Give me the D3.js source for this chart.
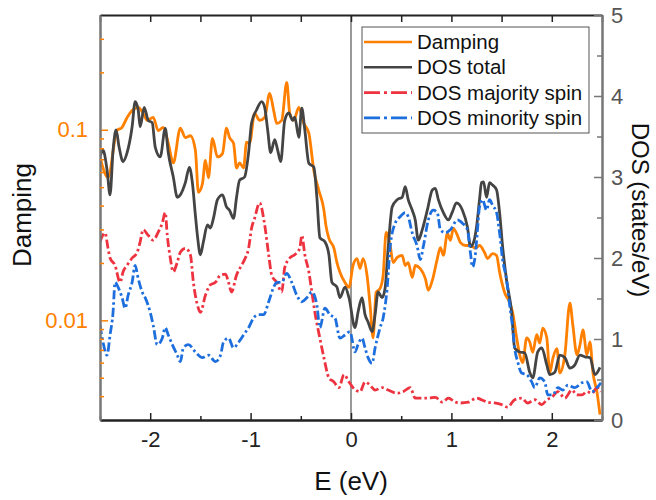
<!DOCTYPE html>
<html>
<head>
<meta charset="utf-8">
<script src="https://cdn.jsdelivr.net/npm/d3@7"></script>
<style>
  body { margin: 0; background: #fff; }
  svg text { font-family: "Liberation Sans", Arial, sans-serif; }
</style>
</head>
<body>
<div class="container"></div>
<script>
// damping (left, log axis)
var dampE = [-2.50,-2.42,-2.33,-2.28,-2.23,-2.18,-2.12,-2.07,-2.03,-1.97,-1.92,-1.87,-1.82,-1.77,-1.70,-1.65,-1.60,-1.55,-1.52,-1.48,-1.45,-1.42,-1.38,-1.33,-1.28,-1.24,-1.21,-1.17,-1.14,-1.11,-1.07,-1.04,-1.01,-0.96,-0.91,-0.86,-0.81,-0.77,-0.74,-0.69,-0.64,-0.61,-0.57,-0.52,-0.47,-0.42,-0.37,-0.32,-0.27,-0.25,-0.22,-0.17,-0.14,-0.11,-0.06,-0.02,0.02,0.06,0.09,0.12,0.16,0.19,0.22,0.25,0.29,0.32,0.35,0.39,0.42,0.46,0.51,0.54,0.57,0.61,0.64,0.69,0.74,0.77,0.81,0.86,0.89,0.92,0.96,0.99,1.02,1.06,1.09,1.14,1.19,1.24,1.28,1.33,1.36,1.41,1.45,1.48,1.53,1.58,1.61,1.65,1.68,1.71,1.75,1.78,1.81,1.85,1.88,1.91,1.95,1.98,2.01,2.05,2.08,2.13,2.18,2.21,2.25,2.28,2.31,2.35,2.38,2.41,2.45,2.48];
var dampV = [0.0718,0.0562,0.0992,0.103,0.116,0.126,0.131,0.122,0.112,0.116,0.099,0.103,0.085,0.067,0.102,0.091,0.093,0.078,0.047,0.052,0.069,0.056,0.090,0.072,0.075,0.102,0.091,0.085,0.063,0.067,0.063,0.086,0.085,0.122,0.112,0.116,0.155,0.126,0.108,0.112,0.177,0.122,0.112,0.131,0.108,0.096,0.061,0.048,0.038,0.0315,0.0269,0.0239,0.0201,0.0179,0.0158,0.0149,0.0194,0.0211,0.0187,0.0211,0.0172,0.0120,0.0081,0.0140,0.0147,0.0172,0.0289,0.0247,0.0201,0.0214,0.0219,0.0194,0.0201,0.0168,0.0194,0.0187,0.0166,0.0144,0.0162,0.0211,0.0241,0.0219,0.0286,0.0263,0.0304,0.0279,0.0256,0.0247,0.0247,0.0239,0.0247,0.0227,0.0211,0.0224,0.0219,0.0179,0.0140,0.0124,0.0110,0.0081,0.0066,0.0060,0.0081,0.0077,0.0068,0.0084,0.0076,0.0091,0.0081,0.0053,0.0063,0.0071,0.0053,0.0066,0.0123,0.0094,0.0066,0.0074,0.0089,0.0066,0.0077,0.0053,0.0042,0.0032];

// DOS total (right axis, states/eV)
var totE = [-2.50,-2.47,-2.43,-2.40,-2.37,-2.34,-2.31,-2.27,-2.23,-2.18,-2.15,-2.12,-2.10,-2.06,-2.02,-1.98,-1.95,-1.90,-1.85,-1.82,-1.77,-1.73,-1.70,-1.65,-1.61,-1.58,-1.55,-1.53,-1.50,-1.47,-1.43,-1.40,-1.37,-1.33,-1.28,-1.24,-1.21,-1.17,-1.14,-1.11,-1.06,-1.02,-0.99,-0.94,-0.89,-0.86,-0.83,-0.80,-0.76,-0.73,-0.70,-0.66,-0.62,-0.58,-0.56,-0.52,-0.49,-0.46,-0.42,-0.37,-0.34,-0.31,-0.26,-0.22,-0.19,-0.14,-0.11,-0.06,-0.02,0.04,0.07,0.11,0.14,0.17,0.21,0.24,0.27,0.31,0.34,0.37,0.41,0.46,0.51,0.54,0.57,0.61,0.64,0.67,0.71,0.76,0.81,0.84,0.87,0.92,0.97,1.01,1.05,1.11,1.16,1.19,1.22,1.25,1.28,1.30,1.32,1.35,1.38,1.41,1.45,1.48,1.51,1.55,1.60,1.63,1.68,1.73,1.78,1.81,1.86,1.90,1.95,1.98,2.03,2.08,2.13,2.18,2.23,2.28,2.33,2.38,2.43,2.48];
var totV = [3.25,3.33,3.09,2.78,3.33,3.58,3.37,3.19,3.30,3.62,3.93,3.83,3.62,3.86,3.70,3.67,3.37,3.25,3.60,3.30,3.00,2.75,2.78,2.93,3.12,2.93,2.53,2.28,2.04,2.20,2.41,2.37,2.49,2.72,2.78,2.63,2.59,2.49,2.75,2.96,3.00,3.30,3.67,3.83,3.93,3.86,3.58,3.30,3.46,3.33,3.19,3.70,3.79,3.70,3.74,3.49,3.85,3.58,3.17,3.12,2.75,2.25,2.20,2.04,1.70,1.64,1.51,1.64,1.51,1.14,1.33,1.51,1.30,1.21,1.09,1.30,1.58,1.51,1.63,2.12,2.63,2.72,2.75,2.88,2.72,2.59,2.47,2.22,2.35,2.59,2.84,2.86,2.72,2.56,2.47,2.57,2.68,2.59,2.38,2.14,2.19,2.38,2.72,2.93,2.94,2.75,2.93,2.90,2.84,2.56,2.14,1.72,1.33,0.89,0.84,0.83,0.59,0.52,0.84,0.89,0.68,0.56,0.59,0.80,0.77,0.64,0.68,0.80,0.78,0.77,0.56,0.65];

// DOS majority spin
var majE = [-2.50,-2.45,-2.42,-2.40,-2.35,-2.30,-2.27,-2.23,-2.18,-2.13,-2.10,-2.07,-2.02,-1.97,-1.92,-1.88,-1.85,-1.83,-1.80,-1.77,-1.73,-1.70,-1.65,-1.60,-1.57,-1.53,-1.50,-1.45,-1.40,-1.35,-1.30,-1.25,-1.22,-1.19,-1.14,-1.09,-1.06,-1.02,-0.99,-0.96,-0.91,-0.86,-0.82,-0.79,-0.74,-0.69,-0.66,-0.61,-0.56,-0.51,-0.49,-0.46,-0.42,-0.39,-0.36,-0.31,-0.27,-0.22,-0.17,-0.12,-0.07,-0.02,0.02,0.09,0.14,0.19,0.24,0.31,0.37,0.46,0.52,0.59,0.64,0.71,0.77,0.84,0.91,0.97,1.04,1.09,1.17,1.25,1.30,1.36,1.43,1.50,1.56,1.63,1.70,1.76,1.83,1.90,1.95,2.00,2.06,2.13,2.20,2.25,2.30,2.35,2.40,2.45,2.49];
var majV = [2.20,2.31,2.12,2.00,1.91,1.70,1.83,1.91,2.00,2.07,2.20,2.35,2.28,2.22,2.32,2.43,2.56,2.28,2.00,1.83,1.95,2.07,2.12,2.04,1.70,1.42,1.33,1.54,1.67,1.70,1.79,1.80,1.70,1.58,1.79,1.91,1.98,2.12,2.37,2.49,2.68,2.41,2.04,1.79,1.70,1.58,1.88,2.00,2.04,2.12,2.28,2.04,1.83,1.58,1.33,1.01,0.77,0.52,0.47,0.40,0.56,0.47,0.40,0.35,0.47,0.43,0.37,0.40,0.37,0.33,0.35,0.40,0.27,0.27,0.27,0.28,0.22,0.27,0.22,0.21,0.22,0.27,0.25,0.22,0.21,0.19,0.16,0.25,0.27,0.21,0.25,0.19,0.25,0.28,0.35,0.27,0.37,0.31,0.31,0.35,0.33,0.40,0.35];

// DOS minority spin
var minE = [-2.50,-2.47,-2.43,-2.40,-2.37,-2.35,-2.32,-2.28,-2.25,-2.22,-2.18,-2.15,-2.12,-2.08,-2.05,-2.00,-1.97,-1.93,-1.88,-1.85,-1.82,-1.78,-1.73,-1.70,-1.67,-1.62,-1.55,-1.48,-1.42,-1.35,-1.30,-1.27,-1.22,-1.17,-1.12,-1.07,-1.02,-0.97,-0.92,-0.87,-0.82,-0.77,-0.74,-0.69,-0.64,-0.59,-0.54,-0.49,-0.44,-0.39,-0.34,-0.31,-0.26,-0.21,-0.16,-0.11,-0.06,-0.01,0.04,0.07,0.11,0.14,0.17,0.21,0.24,0.29,0.32,0.36,0.39,0.44,0.49,0.54,0.57,0.61,0.66,0.69,0.72,0.77,0.82,0.86,0.89,0.94,0.99,1.06,1.11,1.16,1.19,1.21,1.24,1.26,1.28,1.31,1.35,1.38,1.41,1.45,1.48,1.51,1.55,1.58,1.61,1.63,1.66,1.70,1.75,1.80,1.83,1.88,1.93,1.96,2.01,2.06,2.11,2.16,2.23,2.30,2.35,2.40,2.45,2.49];
var minV = [1.17,0.96,0.80,1.05,1.33,1.70,1.64,1.51,1.38,1.54,1.70,1.91,1.75,1.58,1.51,1.33,1.17,0.93,1.01,1.14,1.05,0.93,0.80,0.72,0.89,0.93,0.84,0.77,0.80,0.72,0.80,0.96,1.01,0.89,0.96,1.05,1.14,1.26,1.30,1.30,1.46,1.64,1.70,1.70,1.81,1.70,1.54,1.46,1.51,1.58,1.42,1.14,1.38,1.30,1.26,1.01,1.05,1.09,0.84,0.93,1.01,0.89,0.77,0.70,0.89,1.14,1.26,1.63,2.14,2.43,2.51,2.56,2.51,2.31,2.14,1.98,2.14,2.47,2.59,2.56,2.35,2.31,2.35,2.47,2.43,2.35,2.06,1.89,2.06,2.35,2.63,2.72,2.59,2.72,2.65,2.56,2.31,1.98,1.73,1.42,1.14,0.89,0.72,0.58,0.56,0.47,0.40,0.52,0.47,0.31,0.31,0.40,0.37,0.43,0.40,0.46,0.47,0.35,0.40,0.46];

var xTicks = [-2, -1, 0, 1, 2];
var dampTicks = [0.01, 0.1];
var dosTicks = [0, 1, 2, 3, 4, 5];

var width = 656, height = 500;
var margin = {left: 100, right: 54, top: 15, bottom: 80};
var orange = "#ff8000", gray = "#444444", red = "#ee3340", blue = "#1e6fde";
var font = "'Liberation Sans', Arial, sans-serif";

var svg = d3.select(".container").append("svg").attr("width", width).attr("height", height);

var x = d3.scaleLinear().domain([-2.5, 2.5]).range([margin.left, width - margin.right]);
var yD = d3.scaleLog().domain([0.003, 0.4]).range([height - margin.bottom, margin.top]);
var yS = d3.scaleLinear().domain([0, 5]).range([height - margin.bottom, margin.top]);

var x0 = margin.left, x1 = width - margin.right, y0 = height - margin.bottom, y1 = margin.top;

svg.append("clipPath").attr("id", "clip").append("rect")
  .attr("x", x0).attr("y", y1).attr("width", x1 - x0).attr("height", y0 - y1);

// zero line
svg.append("line").attr("x1", x(0)).attr("x2", x(0)).attr("y1", y1).attr("y2", y0)
  .attr("stroke", "#777").attr("stroke-width", 1.5);

var zip = function(a, b) { return a.map(function(d, i) { return [d, b[i]]; }); };

var lineD = d3.line().x(function(d) { return x(d[0]); }).y(function(d) { return yD(d[1]); }).curve(d3.curveMonotoneX);
var lineS = d3.line().x(function(d) { return x(d[0]); }).y(function(d) { return yS(d[1]); }).curve(d3.curveMonotoneX);

var plot = svg.append("g").attr("clip-path", "url(#clip)");

plot.append("path").datum(zip(dampE, dampV)).attr("d", lineD)
  .attr("fill", "none").attr("stroke", orange).attr("stroke-width", 2.8);
plot.append("path").datum(zip(totE, totV)).attr("d", lineS)
  .attr("fill", "none").attr("stroke", gray).attr("stroke-width", 2.8);
plot.append("path").datum(zip(majE, majV)).attr("d", lineS)
  .attr("fill", "none").attr("stroke", red).attr("stroke-width", 2.8).attr("stroke-dasharray", "9,3,2.5,3");
plot.append("path").datum(zip(minE, minV)).attr("d", lineS)
  .attr("fill", "none").attr("stroke", blue).attr("stroke-width", 2.8).attr("stroke-dasharray", "9,3,2.5,3");

// axes
function styleAxis(g, color, width) {
  g.attr("font-family", font).attr("font-size", 22);
  g.select(".domain").attr("stroke", color).attr("stroke-width", width);
  g.selectAll(".tick line").attr("stroke", color).attr("stroke-width", 1.5);
  g.selectAll("text").attr("fill", color);
}

var halfTicks = d3.range(-2.5, 2.51, 0.5).filter(function(v) { return Math.abs(v - Math.round(v)) > 0.1; });

var gB = svg.append("g").attr("transform", "translate(0," + y0 + ")")
  .call(d3.axisBottom(x).tickValues(xTicks).tickSizeInner(-7).tickSizeOuter(0).tickPadding(11)
    .tickFormat(function(d) { return d < 0 ? "-" + Math.abs(d) : d; }));
styleAxis(gB, "#222", 1.8);
var gBm = svg.append("g").attr("transform", "translate(0," + y0 + ")")
  .call(d3.axisBottom(x).tickValues(halfTicks).tickSizeInner(-4).tickSizeOuter(0).tickFormat(""));
styleAxis(gBm, "#222", 1.8);

var gT = svg.append("g").attr("transform", "translate(0," + y1 + ")")
  .call(d3.axisTop(x).tickValues(xTicks.concat(halfTicks)).tickSizeInner(-7).tickSizeOuter(0).tickFormat(""));
styleAxis(gT, "#222", 1.8);

var minorD = [];
[0.001, 0.01, 0.1].forEach(function(p) {
  d3.range(2, 10).forEach(function(k) {
    var v = +(k * p).toPrecision(2);
    if (v > 0.003 && v < 0.4) minorD.push(v);
  });
});
var gL = svg.append("g").attr("transform", "translate(" + x0 + ",0)")
  .call(d3.axisLeft(yD).tickValues(dampTicks).tickSizeInner(-8).tickSizeOuter(0).tickPadding(12).tickFormat(function(d) { return d; }));
styleAxis(gL, "#777", 2);
gL.selectAll(".tick line").attr("stroke", orange);
gL.selectAll("text").attr("fill", orange);
var gLm = svg.append("g").attr("transform", "translate(" + x0 + ",0)")
  .call(d3.axisLeft(yD).tickValues(minorD).tickSizeInner(-4).tickSizeOuter(0).tickFormat(""));
styleAxis(gLm, "#777", 2);
gLm.selectAll(".tick line").attr("stroke", orange);

var gR = svg.append("g").attr("transform", "translate(" + x1 + ",0)")
  .call(d3.axisRight(yS).tickValues(dosTicks).tickSizeInner(-8).tickSizeOuter(0).tickPadding(9).tickFormat(d3.format("d")));
styleAxis(gR, "#777", 2);
gR.selectAll("text").attr("fill", "#555");
var gRm = svg.append("g").attr("transform", "translate(" + x1 + ",0)")
  .call(d3.axisRight(yS).tickValues(d3.range(0.5, 5, 1)).tickSizeInner(-5).tickSizeOuter(0).tickFormat(""));
styleAxis(gRm, "#777", 2);

// axis titles
svg.append("text").attr("x", 351).attr("y", 490).attr("text-anchor", "middle")
  .style("font-size", "26px").attr("fill", "#111").text("E (eV)");
svg.append("text").attr("transform", "translate(31,215) rotate(-90)")
  .attr("text-anchor", "middle").style("font-size", "26px").attr("fill", "#111").text("Damping");
svg.append("text").attr("transform", "translate(632,210) rotate(90)")
  .attr("text-anchor", "middle").style("font-size", "24px").attr("fill", "#111").text("DOS (states/eV)");

// legend
var legendItems = [
  {name: "Damping", color: orange, dash: null},
  {name: "DOS total", color: gray, dash: null},
  {name: "DOS majority spin", color: red, dash: "16,4,3,4"},
  {name: "DOS minority spin", color: blue, dash: "16,4,3,4"}
];
var lg = svg.append("g").attr("transform", "translate(362,27)");
lg.append("rect").attr("width", 227).attr("height", 106).attr("fill", "#fff").attr("stroke", "#555").attr("stroke-width", 1);
var li = lg.selectAll("g.item").data(legendItems).enter().append("g")
  .attr("transform", function(d, i) { return "translate(0," + (15 + i * 25.3) + ")"; });
li.append("line").attr("x1", 2).attr("x2", 50).attr("y1", 0).attr("y2", 0)
  .attr("stroke", function(d) { return d.color; }).attr("stroke-width", 2.6)
  .attr("stroke-dasharray", function(d) { return d.dash; });
li.append("text").attr("x", 55).attr("y", 7).style("font-size", "20.5px").attr("fill", "#111")
  .text(function(d) { return d.name; });
</script>
</body>
</html>
